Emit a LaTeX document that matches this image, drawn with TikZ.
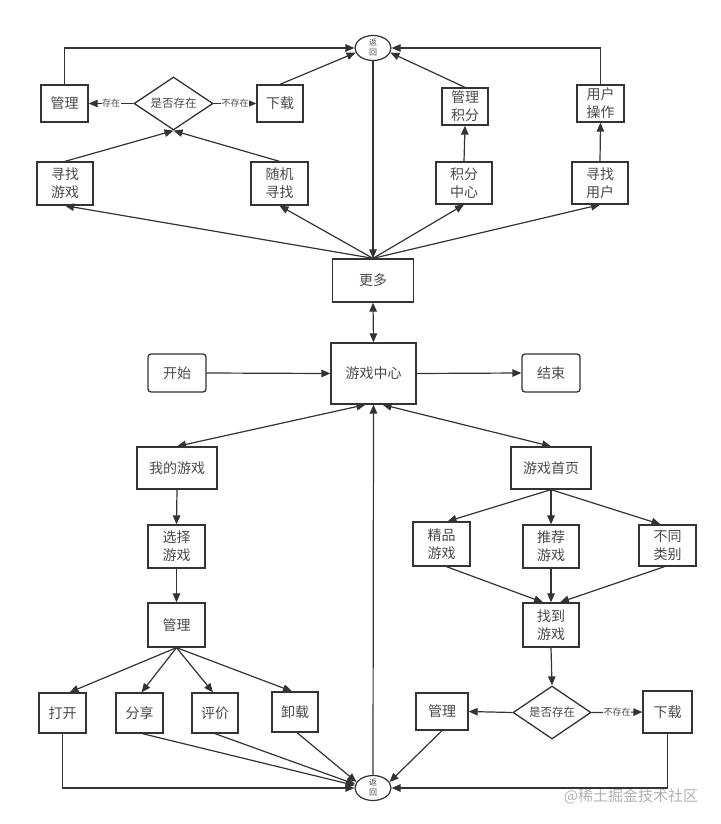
\documentclass[tikz,border=0pt]{standalone}
\usepackage{fontspec}
\setmainfont{Noto Sans CJK SC}
\usetikzlibrary{shapes.geometric,arrows.meta,calc}
\definecolor{ln}{HTML}{333333}
\definecolor{tx}{HTML}{4A4A4A}
\begin{document}
\begin{tikzpicture}[x=1pt,y=-1pt,
  tip/.tip={Triangle[length=9pt,width=7.5pt]},
  conn/.style={draw=ln, line width=1.2pt},
  arr/.style={conn, -tip},
  darr/.style={conn, tip-tip},
  box/.style={draw=ln, line width=1.3pt, fill=white, inner sep=0pt, align=center,
    text=tx, font=\fontsize{14}{18}\selectfont},
  rbox/.style={box, rounded corners=3pt},
  dia/.style={diamond, aspect=1.5, draw=ln, line width=1.3pt, fill=white, inner sep=0pt,
    text=tx, font=\fontsize{11.5}{14}\selectfont},
  ret/.style={ellipse, draw=ln, line width=1.2pt, fill=white, inner sep=0pt, align=center,
    minimum width=36pt, minimum height=25pt, text=tx, font=\fontsize{8}{10}\selectfont},
  lab/.style={fill=white, inner sep=0.5pt, text=tx, font=\fontsize{9}{10}\selectfont},
]
\useasboundingbox (0,0) rectangle (720,824);
\fill[white] (0,0) rectangle (720,824);

% top part
\node[ret] (r1) at (373,48) {返\\回};
\node[box, minimum width=47pt, minimum height=37pt] (m1) at (64.5,103.5) {管理};
\node[dia, minimum width=79pt, minimum height=53pt] (d1) at (173.5,103.5) {是否存在};
\node[box, minimum width=46pt, minimum height=37pt] (dl1) at (280,103.5) {下载};
\node[box, minimum width=56pt, minimum height=43pt] (xy) at (65,183.5) {寻找\\游戏};
\node[box, minimum width=57pt, minimum height=43pt] (sj) at (279.5,183.5) {随机\\寻找};
\node[box, minimum width=46pt, minimum height=37pt] (jg) at (465,106.5) {管理\\积分};
\node[box, minimum width=56pt, minimum height=42pt] (jz) at (464,183) {积分\\中心};
\node[box, minimum width=56pt, minimum height=42pt] (xu) at (600,183) {寻找\\用户};
\node[box, minimum width=47pt, minimum height=37pt] (yc) at (600.5,103.5) {用户\\操作};
\node[box, minimum width=81pt, minimum height=43pt] (gm) at (373,280.5) {更多};

% middle
\node[box, minimum width=85pt, minimum height=61pt] (gc) at (373.5,373.5) {游戏中心};
\node[rbox, minimum width=58pt, minimum height=38pt] (ks) at (177,373) {开始};
\node[rbox, minimum width=58pt, minimum height=38pt] (js) at (551,373) {结束};

% bottom left
\node[box, minimum width=80pt, minimum height=42pt] (mg) at (177,468) {我的游戏};
\node[box, minimum width=57pt, minimum height=43pt] (xz) at (176.5,546.5) {选择\\游戏};
\node[box, minimum width=57pt, minimum height=44pt] (gl) at (176.5,625) {管理};
\node[box, minimum width=47pt, minimum height=40pt] (dk) at (62.5,713) {打开};
\node[box, minimum width=47pt, minimum height=40pt] (fx) at (139.5,713) {分享};
\node[box, minimum width=46pt, minimum height=40pt] (pj) at (215,713) {评价};
\node[box, minimum width=46pt, minimum height=40pt] (xzz) at (295,712) {卸载};
\node[ret] (r2) at (373,788) {返\\回};

% bottom right
\node[box, minimum width=80pt, minimum height=42pt] (sy) at (551,468) {游戏首页};
\node[box, minimum width=57pt, minimum height=44pt] (jp) at (441.5,544) {精品\\游戏};
\node[box, minimum width=56pt, minimum height=43pt] (tj) at (551,546.5) {推荐\\游戏};
\node[box, minimum width=57pt, minimum height=41pt] (bt) at (667.5,545.5) {不同\\类别};
\node[box, minimum width=56pt, minimum height=44pt] (zd) at (551,625) {找到\\游戏};
\node[dia, minimum width=78pt, minimum height=53pt] (d2) at (552,712.5) {是否存在};
\node[box, minimum width=52pt, minimum height=37pt] (gl3) at (442,711.5) {管理};
\node[box, minimum width=49pt, minimum height=42pt] (xz3) at (667.5,712) {下载};

\node[text=black!30, font=\fontsize{15}{16}\selectfont] (wm) at (631,796) {@稀土掘金技术社区};

% top connectors
\draw[arr] (m1.north) |- (r1.west);
\draw[arr] (d1.west) -- node[lab] {存在} (m1.east);
\draw[arr] (d1.east) -- node[lab] {不存在} (dl1.west);
\draw[arr] (dl1.north) -- (r1.195);
\draw[arr] (xy.north) -- (d1.south);
\draw[arr] (sj.north) -- (d1.south);
\draw[arr] (gm.north) -- (xy.south);
\draw[arr] (gm.north) -- (sj.south);
\draw[arr] (gm.north) -- (jz.south);
\draw[arr] (gm.north) -- (xu.south);
\draw[arr] (r1.south) -- (gm.north);
\draw[arr] (jz.north) -- (jg.south);
\draw[arr] (jg.north) -- (r1.-15);
\draw[arr] (xu.north) -- (yc.south);
\draw[arr] (yc.north) |- (r1.east);

% middle connectors
\draw[darr] (gm.south) -- (gc.north);
\draw[arr] (ks.east) -- (gc.west);
\draw[arr] (gc.east) -- (js.west);
\draw[darr] ($(gc.south)+(-8,0)$) -- (mg.north);
\draw[darr] ($(gc.south)+(9,0)$) -- (sy.north);
\draw[arr] (r2.north) -- (gc.south);

% bottom left connectors
\draw[arr] (mg.south) -- (xz.north);
\draw[arr] (xz.south) -- (gl.north);
\draw[arr] (gl.south) -- ($(dk.north)+(7,0)$);
\draw[arr] (gl.south) -- ($(fx.north)+(2,0)$);
\draw[arr] (gl.south) -- ($(pj.north)+(-2,0)$);
\draw[arr] (gl.south) -- ($(xzz.north)+(-3,0)$);
\draw[arr] (dk.south) |- (r2.west);
\draw[arr] ($(fx.south)+(3,0)$) -- (r2.172);
\draw[arr] (pj.south) -- (r2.168);
\draw[arr] ($(xzz.south)+(2,0)$) -- (r2.160);

% bottom right connectors
\draw[arr] (sy.south) -- ($(jp.north)+(6,0)$);
\draw[arr] (sy.south) -- (tj.north);
\draw[arr] (sy.south) -- ($(bt.north)+(-7,0)$);
\draw[arr] ($(jp.south)+(5,0)$) -- ($(zd.north)+(-8,0)$);
\draw[arr] (tj.south) -- (zd.north);
\draw[arr] ($(bt.south)+(-3,0)$) -- ($(zd.north)+(9,0)$);
\draw[arr] (zd.south) -- (d2.north);
\draw[arr] (d2.west) -- (gl3.east);
\draw[arr] (d2.east) -- node[lab] {不存在} (xz3.west);
\draw[arr] (gl3.south) -- (r2.20);
\draw[arr] (xz3.south) |- (r2.east);
\end{tikzpicture}
\end{document}
